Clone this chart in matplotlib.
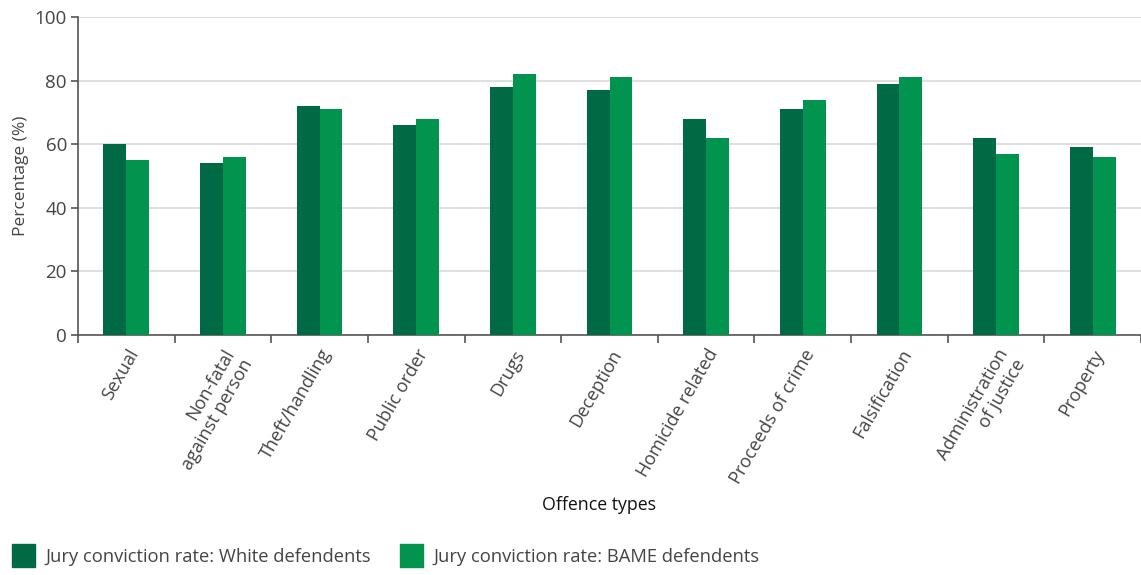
import matplotlib
matplotlib.use("Agg")
import matplotlib.pyplot as plt
import numpy as np
from matplotlib.patches import Rectangle

plt.rcParams['font.family'] = ['Open Sans', 'DejaVu Sans']

categories = ["Sexual", "Non-fatal\nagainst person", "Theft/handling", "Public order", "Drugs",
              "Deception", "Homicide related", "Proceeds of crime", "Falsification",
              "Administration\nof justice", "Property"]
white = [60, 54, 72, 66, 78, 77, 68, 71, 79, 62, 59]
bame = [55, 56, 71, 68, 82, 81, 62, 74, 81, 57, 56]
series_labels = ["Jury conviction rate: White defendents", "Jury conviction rate: BAME defendents"]
yticks = [0, 20, 40, 60, 80, 100]

dark = "#006a45"
light = "#00944f"
txt = "#444444"

fig = plt.figure(figsize=(11.41, 5.75), dpi=100)
ax = fig.add_axes([78/1141, 1-335/575, 1-78/1141, 318/575])

x = np.arange(len(categories))
w = 0.237
ax.bar(x - w/2, white, width=w, color=dark, zorder=3)
ax.bar(x + w/2, bame, width=w, color=light, zorder=3)

ax.set_xlim(-0.5, len(categories) - 0.5)
ax.set_ylim(0, 100)
ax.set_yticks(yticks)
ax.yaxis.grid(True, color="#d9d9d9", linewidth=1.2, zorder=0)
ax.set_axisbelow(True)

for s in ["top", "right"]:
    ax.spines[s].set_visible(False)
for s in ["left", "bottom"]:
    ax.spines[s].set_color("#555555")
    ax.spines[s].set_linewidth(1.2)

ax.set_xticks(np.arange(len(categories) + 1) - 0.5, minor=False)
ax.set_xticklabels([])
ax.tick_params(axis="x", which="major", length=6, width=1.2, color="#555555", direction="out")
ax.set_xticks(x, minor=True)
ax.set_xticklabels(categories, minor=True, rotation=60, ha="right", va="top",
                   rotation_mode="anchor", fontsize=13.1, color=txt, multialignment="right",
                   linespacing=1.15)
ax.tick_params(axis="x", which="minor", length=0, pad=8)
ax.tick_params(axis="y", length=5, width=1.2, color="#555555", labelsize=13.5, labelcolor=txt, pad=3)

ax.set_ylabel("Percentage (%)", fontsize=12.5, color=txt, labelpad=4)

fig.text(599/1141, 1-505/575, "Offence types", ha="center", va="center", fontsize=12.8, color="#111111")

# legend
for (x0, tx, lab, col) in [(12, 45, series_labels[0], dark), (400, 433, series_labels[1], light)]:
    fig.patches.append(Rectangle((x0/1141, 1-567/575), 23/1141, 23/575,
                                 transform=fig.transFigure, color=col, figure=fig))
    fig.text(tx/1141, 1-557/575, lab, ha="left", va="center", fontsize=13.2, color=txt)

fig.savefig("out.png", dpi=100)
